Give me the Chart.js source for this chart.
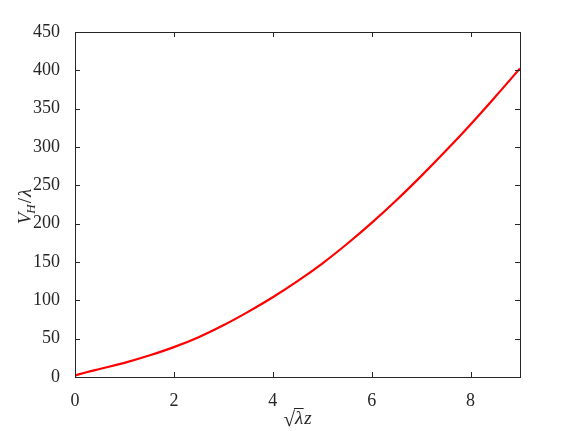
<!DOCTYPE html>
<html>
<head>
<meta charset="utf-8">
<script src="https://cdn.jsdelivr.net/npm/chart.js@4"></script>
<style>
  html, body { margin: 0; padding: 0; background: #fff; }
  #wrap { width: 575px; height: 431px; }
</style>
</head>
<body>
<div id="wrap"><canvas id="potChart"></canvas></div>
<script>
// valeurs
const zValues = [0, 0.25, 0.5, 1, 1.5, 2, 2.5, 3, 3.5, 4, 4.5, 5, 5.5, 6, 6.5, 7, 7.5, 8, 8.5, 9];
const vValues = [2, 6.5, 10.5, 18.5, 28, 39, 52, 67.5, 85, 104, 125, 148, 173.5, 201, 230.5, 262, 295, 329.5, 365.5, 402.5];
const xTicks = [0, 2, 4, 6, 8];
const yTicks = [0, 50, 100, 150, 200, 250, 300, 350, 400, 450];

const axisColor = '#262626';
const serif = '"Liberation Serif", "DejaVu Serif", serif';

// cadre, graduations vers l'intérieur et titres des axes
const boxPlugin = {
    id: 'boxPlugin',
    afterDraw(chart) {
        const { ctx, chartArea: a, scales } = chart;
        const len = 5;
        ctx.save();
        ctx.strokeStyle = axisColor;
        ctx.lineWidth = 1;
        ctx.strokeRect(a.left + 0.5, a.top + 0.5, a.right - a.left, a.bottom - a.top);
        ctx.beginPath();
        xTicks.forEach(v => {
            const px = Math.round(scales.x.getPixelForValue(v)) + 0.5;
            ctx.moveTo(px, a.bottom); ctx.lineTo(px, a.bottom - len);
            ctx.moveTo(px, a.top); ctx.lineTo(px, a.top + len);
        });
        yTicks.forEach(v => {
            const py = Math.round(scales.y.getPixelForValue(v)) + 0.5;
            ctx.moveTo(a.left, py); ctx.lineTo(a.left + len, py);
            ctx.moveTo(a.right, py); ctx.lineTo(a.right - len, py);
        });
        ctx.stroke();

        ctx.fillStyle = axisColor;
        ctx.textBaseline = 'alphabetic';

        // titre x : racine de lambda fois z
        const cx = (a.left + a.right) / 2;
        const by = 424;
        ctx.font = '21px ' + serif;
        const wRad = ctx.measureText('\u221A').width;
        ctx.font = 'italic 19px ' + serif;
        const wLam = ctx.measureText('\u03BB').width;
        const wZ = ctx.measureText('z').width;
        let x0 = cx - (wRad + wLam + wZ + 1) / 2;
        ctx.textAlign = 'left';
        ctx.font = '21px ' + serif;
        ctx.fillText('\u221A', x0, by + 2);
        ctx.font = 'italic 19px ' + serif;
        ctx.fillText('\u03BB', x0 + wRad, by);
        ctx.fillText('z', x0 + wRad + wLam + 1, by);
        ctx.beginPath();
        ctx.lineWidth = 1;
        ctx.moveTo(x0 + wRad - 1, by - 15.5);
        ctx.lineTo(x0 + wRad + wLam + 0.5, by - 15.5);
        ctx.stroke();

        // titre y : V_H / lambda
        ctx.save();
        ctx.translate(31, (a.top + a.bottom) / 2 + 2);
        ctx.rotate(-Math.PI / 2);
        ctx.font = 'italic 19px ' + serif;
        const wV = ctx.measureText('V').width;
        ctx.font = 'italic 13px ' + serif;
        const wH = ctx.measureText('H').width;
        ctx.font = '19px ' + serif;
        const wS = ctx.measureText('/').width;
        ctx.font = 'italic 19px ' + serif;
        const wL = ctx.measureText('\u03BB').width;
        let t = -(wV + wH + wS + wL + 1) / 2;
        ctx.font = 'italic 19px ' + serif;
        ctx.fillText('V', t, 0);
        t += wV - 1;
        ctx.font = 'italic 13px ' + serif;
        ctx.fillText('H', t, 4);
        t += wH + 1;
        ctx.font = '19px ' + serif;
        ctx.fillText('/', t, 0);
        t += wS + 1;
        ctx.font = 'italic 19px ' + serif;
        ctx.fillText('\u03BB', t, 0);
        ctx.restore();
        ctx.restore();
    }
};

document.addEventListener('DOMContentLoaded', function () {
    const ctx = document.getElementById('potChart');
    new Chart(ctx.getContext('2d'), {
        type: 'line',
        data: {
            datasets: [{
                data: zValues.map((z, i) => ({ x: z, y: vValues[i] })),
                borderColor: '#ff0000',
                borderWidth: 2.2,
                pointRadius: 0,
                tension: 0.4,
                fill: false
            }]
        },
        options: {
            responsive: true,
            maintainAspectRatio: false,
            animation: false,
            layout: { padding: { top: 32, right: 55, left: 0, bottom: 0 } },
            plugins: {
                legend: { display: false },
                tooltip: { enabled: false }
            },
            scales: {
                x: {
                    type: 'linear',
                    min: 0,
                    max: 9,
                    afterBuildTicks: scale => { scale.ticks = xTicks.map(v => ({ value: v })); },
                    afterFit: scale => { scale.height = 54; },
                    grid: { display: false },
                    border: { display: false },
                    ticks: {
                        color: axisColor,
                        padding: 5,
                        maxRotation: 0,
                        font: { family: serif, size: 18 }
                    }
                },
                y: {
                    min: 0,
                    max: 450,
                    afterBuildTicks: scale => { scale.ticks = yTicks.map(v => ({ value: v })); },
                    afterFit: scale => { scale.width = 75; },
                    grid: { display: false },
                    border: { display: false },
                    ticks: {
                        color: axisColor,
                        padding: 7,
                        font: { family: serif, size: 18 }
                    }
                }
            }
        },
        plugins: [boxPlugin]
    });
});
</script>
</body>
</html>
